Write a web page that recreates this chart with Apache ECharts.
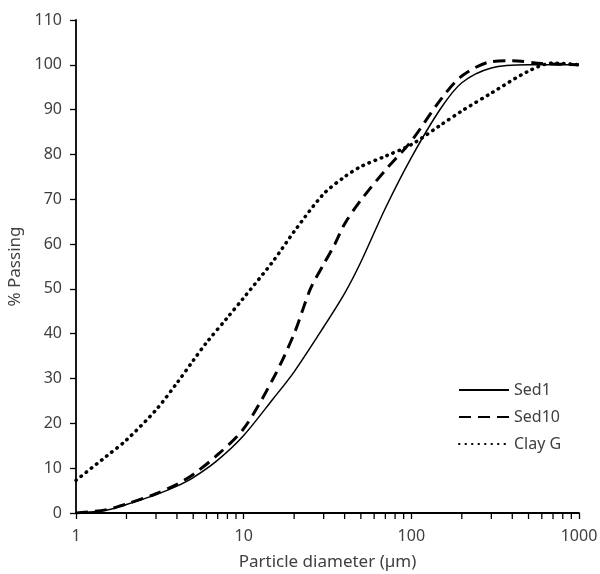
<!DOCTYPE html>
<html>
<head>
<meta charset="utf-8">
<script src="https://cdn.jsdelivr.net/npm/echarts@6/dist/echarts.min.js"></script>
<style>
  html, body { margin: 0; padding: 0; background: #fff; }
  #main { width: 600px; height: 574px; }
</style>
</head>
<body>
<div id="main"></div>
<script>
// particle size (µm) vs % passing
const sed1 = [
  [1, 0], [1.5, 0.6], [2, 1.9], [3, 4.1], [4, 6], [5, 7.9], [7, 11.8], [10, 17.3],
  [15, 25.5], [20, 31.5], [30, 41.5], [40, 49], [50, 56], [70, 68], [100, 79.3],
  [150, 90.3], [200, 96], [300, 99.3], [500, 100], [1000, 100]
];
const sed10 = [
  [1, 0], [1.5, 0.7], [2, 2], [3, 4.3], [4, 6.4], [5, 8.6], [7, 13], [10, 18.8],
  [15, 30], [20, 40], [25, 50], [30, 55.5], [35, 60], [40, 64.5], [50, 69.8],
  [70, 76.5], [100, 83], [150, 92.3], [200, 97.5], [300, 100.7], [400, 100.9],
  [600, 100.3], [1000, 100]
];
const clayG = [
  [1, 7.3], [1.5, 12.5], [2, 16.3], [3, 23], [4, 29], [5, 34], [6, 38], [8, 43.6],
  [10, 48], [15, 56.2], [20, 62.8], [30, 71.2], [40, 75], [50, 77.3], [70, 79.6],
  [100, 82.2], [150, 86.6], [200, 89.7], [300, 93.7], [500, 98.6], [700, 100.4],
  [1000, 100]
];
const seriesNames = ['Sed1', 'Sed10', 'Clay G'];
const minorTicks = [2, 3, 4, 5, 6, 7, 8, 9, 20, 30, 40, 50, 60, 70, 80, 90,
  200, 300, 400, 500, 600, 700, 800, 900];

const chart = echarts.init(document.getElementById('main'));
const font = '"Noto Sans", sans-serif';
const txt = '#404040';

const option = {
  animation: false,
  grid: { left: 76, right: 21, top: 20, bottom: 61, outerBoundsMode: 'none', containLabel: false },
  legend: {
    data: seriesNames,
    orient: 'vertical',
    left: 453,
    top: 377,
    itemWidth: 50,
    itemHeight: 14,
    itemGap: 11,
    itemStyle: { opacity: 0 },
    textStyle: { fontFamily: font, fontSize: 16, color: txt }
  },
  xAxis: {
    type: 'log',
    logBase: 10,
    min: 1,
    max: 1000,
    name: 'Particle diameter (µm)',
    nameLocation: 'middle',
    nameGap: 41,
    nameTextStyle: { fontFamily: font, fontSize: 17, color: txt },
    axisLine: { lineStyle: { color: '#000', width: 1.8 } },
    axisTick: { show: true, length: 6, lineStyle: { color: '#000', width: 1.3 } },
    axisLabel: {
      fontFamily: font, fontSize: 16, color: txt, margin: 15,
      formatter: v => String(v)
    },
    splitLine: { show: false }
  },
  yAxis: {
    type: 'value',
    min: 0,
    max: 110,
    interval: 10,
    name: '% Passing',
    nameLocation: 'middle',
    nameGap: 38,
    nameTextStyle: { fontFamily: font, fontSize: 17, color: txt },
    axisLine: { show: true, lineStyle: { color: '#000', width: 1.8 } },
    axisTick: { show: true, length: 6, lineStyle: { color: '#000', width: 1.3 } },
    axisLabel: { fontFamily: font, fontSize: 16, color: txt, margin: 14 },
    splitLine: { show: false }
  },
  series: [
    {
      name: 'Sed1',
      type: 'line',
      data: sed1,
      smooth: 0.3,
      symbol: 'none',
      itemStyle: { color: '#000' },
      lineStyle: { color: '#000', width: 1.5 }
    },
    {
      name: 'Sed10',
      type: 'line',
      data: sed10,
      smooth: 0.3,
      symbol: 'none',
      itemStyle: { color: '#000' },
      lineStyle: { color: '#000', width: 3, type: [12, 7] }
    },
    {
      name: 'Clay G',
      type: 'line',
      data: clayG,
      smooth: 0.3,
      symbol: 'none',
      itemStyle: { color: '#000' },
      lineStyle: { color: '#000', width: 3.5, type: [0.5, 6], cap: 'round' }
    }
  ]
};

chart.setOption(option);

// minor log ticks (2..9 per decade) below the x axis, placed through the axis scale
const minorTickGraphics = minorTicks.map(v => {
  const p = chart.convertToPixel({ gridIndex: 0 }, [v, 0]);
  return {
    type: 'line',
    silent: true,
    shape: { x1: p[0], y1: p[1], x2: p[0], y2: p[1] + 6 },
    style: { stroke: '#000', lineWidth: 1.3 }
  };
});
chart.setOption({ graphic: minorTickGraphics });
</script>
</body>
</html>
